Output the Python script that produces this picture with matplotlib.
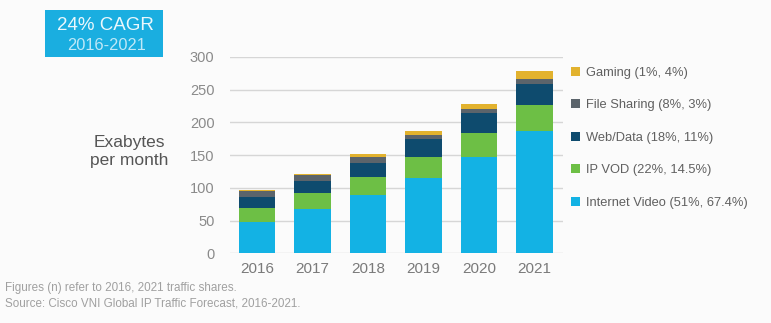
import matplotlib
matplotlib.use('Agg')
import matplotlib.pyplot as plt
from matplotlib.patches import Rectangle
import numpy as np

years = ['2016', '2017', '2018', '2019', '2020', '2021']
internet_video = [48, 67.6, 89, 115.4, 147.4, 187]
ip_vod = [20.6, 24.9, 28, 32, 36.6, 40]
web_data = [17.8, 18.3, 21, 26.6, 29.5, 31]
file_sharing = [8.6, 8.7, 9.4, 6.5, 7.5, 7.4]
gaming = [1, 2, 3.6, 6.5, 6.8, 13.2]

series = [
    ('Internet Video (51%, 67.4%)', internet_video, '#13b2e4'),
    ('IP VOD (22%, 14.5%)', ip_vod, '#6dbf45'),
    ('Web/Data (18%, 11%)', web_data, '#0e4b6e'),
    ('File Sharing (8%, 3%)', file_sharing, '#5b646b'),
    ('Gaming (1%, 4%)', gaming, '#e2b22e'),
]

plt.rcParams['font.family'] = ['Liberation Sans', 'DejaVu Sans']

fig = plt.figure(figsize=(7.71, 3.23), dpi=100)
fig.patch.set_facecolor('#fbfbfb')
ax = fig.add_axes([0.298, 0.216, 0.432, 0.608])
ax.set_facecolor('#fbfbfb')

x = np.arange(len(years))
bottom = np.zeros(len(years))
handles = []
for label, vals, color in series:
    b = ax.bar(x, vals, 0.65, bottom=bottom, color=color, label=label, zorder=3)
    handles.append(b)
    bottom += np.array(vals)

ax.set_ylim(0, 300)
ax.set_xlim(-0.49, 5.51)
ax.set_yticks(range(0, 301, 50))
ax.set_xticks(x, years)
ax.grid(axis='y', color='#d6d6d6', linewidth=1, zorder=0)
for s in ax.spines.values():
    s.set_visible(False)
ax.tick_params(axis='y', length=0, pad=11, labelsize=10.5, labelcolor='#8a8a8a')
ax.tick_params(axis='x', length=0, pad=6, labelsize=11, labelcolor='#7a7a7a')

leg = ax.legend(handles[::-1], [s[0] for s in series][::-1], loc='upper left',
                bbox_to_anchor=(1.01, 0.975), frameon=False, fontsize=9.3,
                labelspacing=1.58, handlelength=0.7, handleheight=0.7,
                handletextpad=0.4, borderaxespad=0)
for t in leg.get_texts():
    t.set_color('#606060')

fig.text(129 / 771, 1 - 152 / 323, 'Exabytes\nper month', ha='center', va='center',
         fontsize=12.5, color='#555555', linespacing=1.25)

fig.patches.append(Rectangle((45 / 771, 1 - 57 / 323), 118 / 771, 47 / 323,
                             transform=fig.transFigure, facecolor='#1aaee0',
                             edgecolor='none'))
fig.text(105 / 771, 1 - 25 / 323, '24% CAGR', ha='center', va='center',
         fontsize=13.5, color='#eaf7fc')
fig.text(106 / 771, 1 - 45 / 323, '2016-2021', ha='center', va='center',
         fontsize=11.8, color='#bfe8f7')

fig.text(5 / 771, 1 - 288 / 323, 'Figures (n) refer to 2016, 2021 traffic shares.',
         ha='left', va='center', fontsize=8.4, color='#a0a0a0')
fig.text(5 / 771, 1 - 303 / 323, 'Source: Cisco VNI Global IP Traffic Forecast, 2016-2021.',
         ha='left', va='center', fontsize=8.4, color='#a0a0a0')

fig.savefig('out.png', dpi=100, facecolor=fig.get_facecolor())
